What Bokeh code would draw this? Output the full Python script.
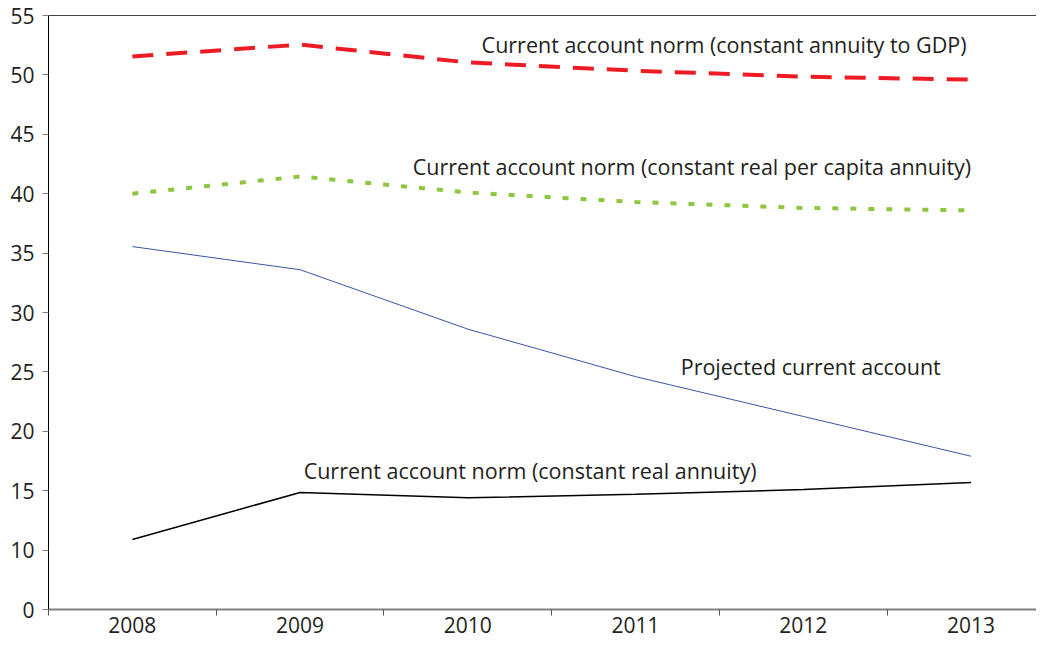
from bokeh.plotting import figure
from bokeh.models import Range1d, FixedTicker, LinearAxis, Label
from bokeh.embed import file_html
from bokeh.resources import INLINE

years = ["2008", "2009", "2010", "2011", "2012", "2013"]
annuity_gdp = [51.55, 52.55, 51.05, 50.35, 49.85, 49.6]
real_per_capita = [40.0, 41.45, 40.1, 39.3, 38.8, 38.6]
projected = [35.55, 33.6, 28.6, 24.6, 21.25, 17.9]
real_annuity = [10.9, 14.85, 14.4, 14.7, 15.1, 15.7]
y_ticks = [5, 10, 15, 20, 25, 30, 35, 40, 45, 50, 55]
y_labels = ["0", "10", "15", "20", "25", "30", "35", "40", "45", "50", "55"]

xs = [i + 0.5 for i in range(len(years))]
FONT = "Open Sans"
TXT = "#231f20"

p = figure(width=1036, height=639, output_backend="svg", toolbar_location=None,
           x_range=Range1d(0, 5.89), y_range=Range1d(5, 55),
           min_border_left=48, min_border_right=0, min_border_top=15, min_border_bottom=30)
p.outline_line_color = None
p.grid.visible = False
p.background_fill_color = "white"
p.border_fill_color = "white"

# x axis
xa = p.xaxis[0]
xa.ticker = FixedTicker(ticks=xs, minor_ticks=[0, 1, 2, 3, 4, 5])
xa.major_label_overrides = {x: y for x, y in zip(xs, years)}
xa.major_tick_out = 0
xa.major_tick_in = 0
xa.minor_tick_out = 6
xa.minor_tick_in = 0
xa.minor_tick_line_color = "#555555"
xa.axis_line_color = "#7f7f7f"
xa.axis_line_width = 2
xa.major_label_standoff = 1
xa.major_label_text_font = FONT
xa.major_label_text_font_size = "21px"
xa.major_label_text_color = TXT

# y axis
ya = p.yaxis[0]
ya.ticker = FixedTicker(ticks=y_ticks, minor_ticks=[])
ya.major_label_overrides = {t: l for t, l in zip(y_ticks, y_labels)}
ya.major_tick_out = 6
ya.major_tick_in = 0
ya.major_tick_line_color = "#7f7f7f"
ya.axis_line_color = "black"
ya.axis_line_width = 1
ya.major_label_standoff = 8
ya.major_label_text_font = FONT
ya.major_label_text_font_size = "21px"
ya.major_label_text_color = TXT

# top border
top = LinearAxis(ticker=FixedTicker(ticks=[]), major_tick_out=0, major_tick_in=0,
                 minor_tick_out=0, minor_tick_in=0, axis_line_color="#444444",
                 major_label_text_font_size="0px")
p.add_layout(top, "above")

p.line(xs, annuity_gdp, line_color="#ed1c24", line_width=4, line_dash="21 13")
p.line(xs, real_per_capita, line_color="#8dc63f", line_width=4, line_dash="6 12")
p.line(xs, projected, line_color="#3a55a4", line_width=1)
p.line(xs, real_annuity, line_color="black", line_width=1.5)

labels = [
    ("Current account norm (constant annuity to GDP)", 2.582, 52.56),
    ("Current account norm (constant real per capita annuity)", 2.171, 42.29),
    ("Projected current account", 3.769, 25.45),
    ("Current account norm (constant real annuity)", 1.521, 16.70),
]
for t, x, y in labels:
    p.add_layout(Label(x=x, y=y, text=t, text_font=FONT, text_font_size="21.5px",
                       text_color=TXT, text_baseline="middle", text_align="left"))

open("out.html", "w").write(file_html(p, INLINE))
